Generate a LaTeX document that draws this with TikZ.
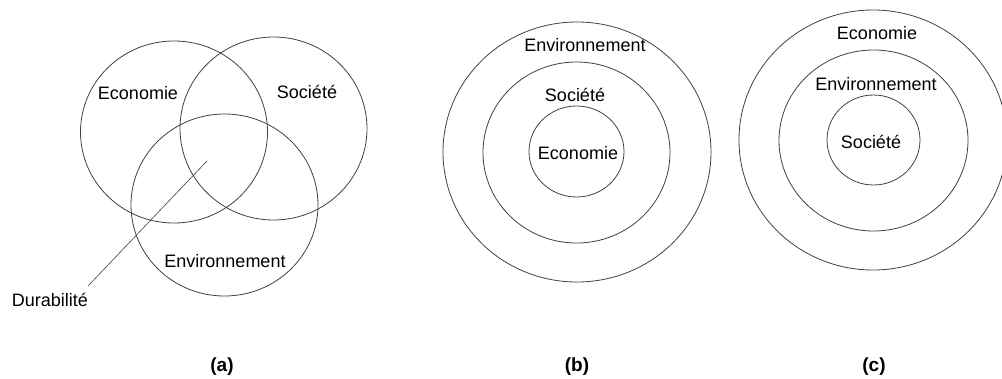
\documentclass[tikz,border=0pt]{standalone}
\usepackage{fontspec}
\setmainfont{Liberation Sans}
\begin{document}
\begin{tikzpicture}[x=1pt,y=-1pt,
  ring/.style={draw=black!75,line width=0.8pt},
  lbl/.style={inner sep=0pt,font=\fontsize{18}{20}\selectfont},
  captxt/.style={inner sep=0pt,font=\fontsize{19}{21}\selectfont\bfseries}]
\useasboundingbox (0,0) rectangle (1002,378);
% (a) Venn
\draw[ring] (174,132) ellipse [x radius=93.5pt, y radius=91pt];
\draw[ring] (273.5,128.5) ellipse [x radius=93.5pt, y radius=91.5pt];
\draw[ring] (224.5,205) ellipse [x radius=93.5pt, y radius=91pt];
\node[lbl] (aeco) at (138,93) {Economie};
\node[lbl] (asoc) at (307,92) {Société};
\node[lbl] (aenv) at (225,261) {Environnement};
\node[lbl] (dur) at (50,300) {Durabilité};
\coordinate (center) at (207,161);
\draw[black!75,line width=0.6pt] (88,286) -- (center);
% (b)
\draw[ring] (577,152) ellipse [x radius=134pt, y radius=130pt];
\draw[ring] (576.5,152.5) ellipse [x radius=93.5pt, y radius=90.5pt];
\draw[ring] (576.5,151.5) ellipse [x radius=47.5pt, y radius=45.5pt];
\node[lbl] (benv) at (585,45) {Environnement};
\node[lbl] (bsoc) at (575,95) {Société};
\node[lbl] (beco) at (578,153) {Economie};
% (c)
\draw[ring] (873,140) ellipse [x radius=134pt, y radius=130pt];
\draw[ring] (873.5,140.5) ellipse [x radius=94.5pt, y radius=90.5pt];
\draw[ring] (873.5,140) ellipse [x radius=46.5pt, y radius=45pt];
\node[lbl] (ceco) at (877,33) {Economie};
\node[lbl] (cenv) at (876,84) {Environnement};
\node[lbl] (csoc) at (871,142) {Société};
% captions
\node[captxt] (capa) at (222,367) {(a)};
\node[captxt] (capb) at (577,367) {(b)};
\node[captxt] (capc) at (874,367) {(c)};
\end{tikzpicture}
\end{document}
